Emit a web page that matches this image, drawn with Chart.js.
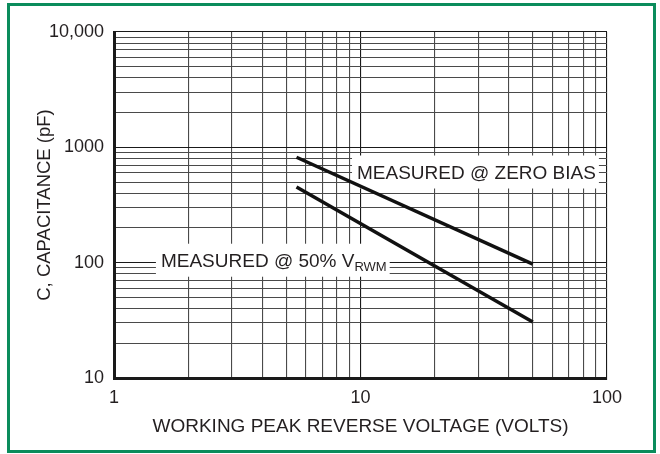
<!DOCTYPE html>
<html><head><meta charset="utf-8">
<script src="https://cdn.jsdelivr.net/npm/chart.js@4/dist/chart.umd.min.js"></script>
<style>html,body{margin:0;padding:0;background:#fff;} #wrap{width:660px;height:454px;position:relative;}</style>
</head><body><div id="wrap"><canvas id="c" width="660" height="454"></canvas></div>
<script>
// ---- data ----
const xDecades = [1, 10, 100];
const xTickLabels = ['1', '10', '100'];
const yDecades = [10, 100, 1000, 10000];
const yTickLabels = ['10', '100', '1000', '10,000'];
const zeroBiasVolts = [5.5, 50];
const zeroBiasPF = [820, 97];
const halfVrwmVolts = [5.5, 50];
const halfVrwmPF = [453, 30.6];
const seriesNames = ['MEASURED @ ZERO BIAS', 'MEASURED @ 50% V'];
const seriesSubs = ['', 'RWM'];
const xTitle = 'WORKING PEAK REVERSE VOLTAGE (VOLTS)';
const yTitle = 'C, CAPACITANCE (pF)';

// ---- label placement (data coordinates) ----
const labelAnchors = [{x: 9.68, y: 611}, {x: 1.55, y: 105}];

const FONT = '"Liberation Sans", Arial, Helvetica, sans-serif';
const INK = '#231f20';

function buildLogTicks(decades) {
  const t = [];
  for (let i = 0; i < decades.length - 1; i++) {
    for (let k = 1; k < 10; k++) t.push({value: decades[i] * k});
  }
  t.push({value: decades[decades.length - 1]});
  return t;
}
function labelFor(decades, labels, v) {
  const i = decades.findIndex(d => Math.abs(d - v) < 1e-9 * d);
  return i >= 0 ? labels[i] : '';
}
function isDecade(decades, v) {
  return decades.some(d => Math.abs(d - v) < 1e-9 * d);
}
function toPoints(xs, ys) { return xs.map((x, i) => ({x: x, y: ys[i]})); }

const labelPlugin = {
  id: 'seriesLabels',
  beforeDatasetsDraw(chart) {
    const ctx = chart.ctx;
    const xs = chart.scales.x, ys = chart.scales.y;
    ctx.save();
    labelAnchors.forEach((a, i) => {
      const px = xs.getPixelForValue(a.x);
      const py = ys.getPixelForValue(a.y);
      ctx.font = '19px ' + FONT;
      const w1 = ctx.measureText(seriesNames[i]).width;
      let w2 = 0;
      if (seriesSubs[i]) { ctx.font = '13px ' + FONT; w2 = ctx.measureText(seriesSubs[i]).width; }
      ctx.fillStyle = '#fff';
      ctx.fillRect(px - 5, py - 16.5, w1 + w2 + 8, 33);
      ctx.fillStyle = INK;
      ctx.textBaseline = 'alphabetic';
      ctx.textAlign = 'left';
      ctx.font = '19px ' + FONT;
      ctx.fillText(seriesNames[i], px, py + 6.8);
      if (seriesSubs[i]) {
        ctx.font = '13px ' + FONT;
        ctx.fillText(seriesSubs[i], px + w1, py + 10.8);
      }
    });
    ctx.restore();
  },
  afterDraw(chart) {
    const ctx = chart.ctx;
    ctx.save();
    ctx.strokeStyle = '#0b8c5c';
    ctx.lineWidth = 3;
    ctx.strokeRect(8.5, 4.5, 646, 447);
    ctx.restore();
  }
};

new Chart(document.getElementById('c'), {
  type: 'scatter',
  data: {
    datasets: [
      {label: seriesNames[0], data: toPoints(zeroBiasVolts, zeroBiasPF), showLine: true,
       borderColor: '#111', borderWidth: 3.5, pointRadius: 0, fill: false},
      {label: seriesNames[1] + seriesSubs[1], data: toPoints(halfVrwmVolts, halfVrwmPF), showLine: true,
       borderColor: '#111', borderWidth: 3.5, pointRadius: 0, fill: false}
    ]
  },
  options: {
    responsive: false,
    animation: false,
    events: [],
    layout: {padding: {top: 32, right: 53, bottom: 0, left: 0}},
    plugins: {legend: {display: false}, tooltip: {enabled: false}},
    scales: {
      x: {
        type: 'logarithmic', min: 1, max: 100,
        afterBuildTicks: s => { s.ticks = buildLogTicks(xDecades); },
        afterFit: s => { s.height = 76; },
        ticks: {autoSkip: false, maxRotation: 0, minRotation: 0, padding: 9, color: INK,
                font: {family: FONT, size: 18},
                callback: v => labelFor(xDecades, xTickLabels, v)},
        grid: {drawTicks: false, lineWidth: 1.1,
               color: c => (c.tick && isDecade(xDecades, c.tick.value)) ? '#1a1a1a' : '#4a4a4a'},
        border: {color: '#1a1a1a', width: 3},
        title: {display: true, text: xTitle, color: INK, font: {family: FONT, size: 19},
                padding: {top: 0, bottom: 16}}
      },
      y: {
        type: 'logarithmic', min: 10, max: 10000,
        afterBuildTicks: s => { s.ticks = buildLogTicks(yDecades); },
        afterFit: s => { s.width = 114; },
        ticks: {autoSkip: false, padding: 10, color: INK,
                font: {family: FONT, size: 18},
                callback: v => labelFor(yDecades, yTickLabels, v)},
        grid: {drawTicks: false, lineWidth: 1.1,
               color: c => (c.tick && isDecade(yDecades, c.tick.value)) ? '#1a1a1a' : '#4a4a4a'},
        border: {color: '#1a1a1a', width: 3},
        title: {display: true, text: yTitle, color: INK, font: {family: FONT, size: 18.5},
                padding: {top: 34, bottom: 0}}
      }
    }
  },
  plugins: [labelPlugin]
});
</script>
</body></html>
